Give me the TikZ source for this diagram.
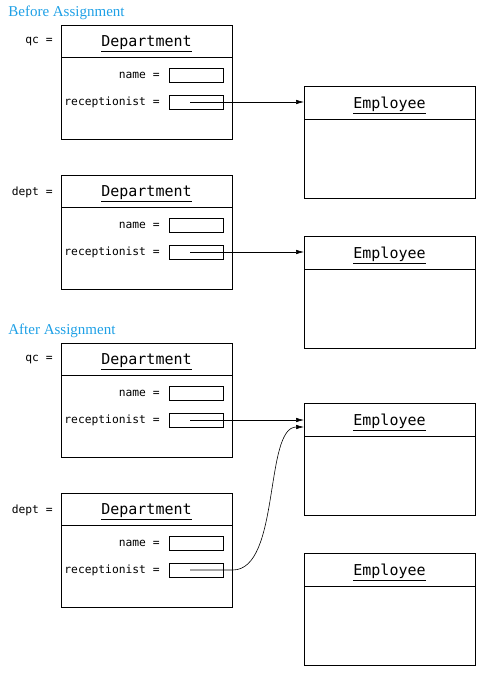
\documentclass[tikz,border=0pt]{standalone}
\usepackage{fontspec}
\setmonofont{DejaVu Sans Mono}
\newfontfamily\headfont{Liberation Serif}
\usetikzlibrary{arrows.meta, positioning}
\definecolor{headblue}{RGB}{30,160,230}

\begin{document}
\begin{tikzpicture}[x=1pt, y=-1pt, line width=0.7pt,
    objbox/.style={draw, minimum width=171pt, anchor=north west, inner sep=0pt},
    field/.style={draw, minimum width=54pt, minimum height=14pt, inner sep=0pt},
    lbl/.style={anchor=east, font=\ttfamily\fontsize{11.3}{13}\selectfont, inner sep=0pt},
    cls/.style={font=\ttfamily\fontsize{15}{17}\selectfont, inner sep=0pt},
    phase/.style={anchor=west, font=\headfont\fontsize{15}{17}\selectfont, text=headblue, inner sep=0pt},
    ref/.style={-{Latex[length=8pt,width=4.5pt]}, line width=0.6pt}]

  \useasboundingbox (0,0) rectangle (486,679);

  % Headings
  \node[phase] (before) at (8,13) {Before Assignment};
  \node[phase] (after) at (8,331) {After Assignment};

  % Department objects
  \foreach \n/\y/\vname in {a/25/qc, b/175/dept, c/343/qc, d/493/dept} {
    \node[objbox, minimum height=114pt] (dept\n) at (61,\y) {};
    \draw (61,\y+32) -- (232,\y+32);
    \node[cls] (dtitle\n) at (146.5,\y+18.5) {\underline{Department}};
    \node[lbl] (var\n) at (53,\y+17) {\vname\ =};
    \node[lbl] (nlbl\n) at (160,\y+50.5) {name =};
    \node[field] (name\n) at (196,\y+50) {};
    \node[lbl] (rlbl\n) at (160,\y+77.5) {receptionist =};
    \node[field] (rec\n) at (196,\y+77) {};
    \coordinate (ptr\n) at (190,\y+77);
  }

  % Employee objects
  \foreach \n/\y in {a/86, b/236, c/403, d/553} {
    \node[objbox, minimum height=112pt] (emp\n) at (304,\y) {};
    \draw (304,\y+33) -- (475,\y+33);
    \node[cls] (etitle\n) at (389.5,\y+19.5) {\underline{Employee}};
  }

  % References
  \draw[ref] (ptra) -- (ptra -| empa.west);
  \draw[ref] (ptrb) -- (ptrb -| empb.west);
  \draw[ref] (ptrc) -- (ptrc -| empc.west);
  \coordinate (inc) at (304,427);
  \draw[ref] (ptrd) -- (ptrd -| deptd.east) .. controls +(48,0) and +(-40,0) .. (inc);
\end{tikzpicture}
\end{document}
